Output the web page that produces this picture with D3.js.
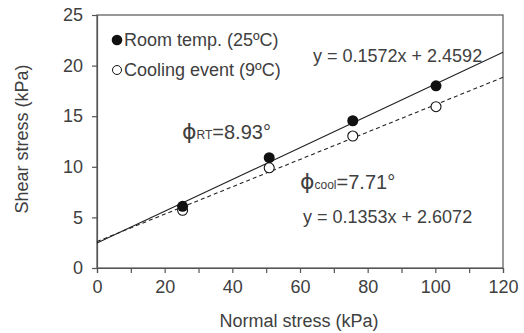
<!DOCTYPE html>
<html><head><meta charset="utf-8">
<script src="https://cdn.jsdelivr.net/npm/d3@7"></script>
<style>
body{margin:0;background:#fff;}
text{font-family:"Liberation Sans",Arial,sans-serif;fill:#404040;}
</style></head>
<body><svg id="chart" width="524" height="333"></svg>
<script>
const normalStress = [25.3, 50.9, 75.6, 100.2];
const roomTemp = [6.1, 10.9, 14.55, 18.0];
const cooling = [5.7, 9.9, 13.04, 15.94];
const fitRoom = {slope: 0.1572, intercept: 2.4592};
const fitCool = {slope: 0.1353, intercept: 2.6072};
const xTicks = [0, 20, 40, 60, 80, 100, 120];
const xMinorTicks = [0,10,20,30,40,50,60,70,80,90,100,110,120];
const yTicks = [0, 5, 10, 15, 20, 25];
const legendLabels = ["Room temp. (25ºC)", "Cooling event (9ºC)"];

const svg = d3.select("#chart");
const L = 97, T = 15, R = 503, B = 268;
const x = d3.scaleLinear().domain([0,120]).range([L,R]);
const y = d3.scaleLinear().domain([0,25]).range([B,T]);
const axisCol = "#555";

// frame
svg.append("rect").attr("x",L).attr("y",T).attr("width",R-L).attr("height",B-T)
  .attr("fill","none").attr("stroke",axisCol).attr("stroke-width",1.2);

// axes
const gx = svg.append("g").attr("transform",`translate(0,${B})`)
  .call(d3.axisBottom(x).tickValues(xMinorTicks).tickSize(5).tickPadding(7)
    .tickFormat(d => xTicks.includes(d) ? d : ""));
const gy = svg.append("g").attr("transform",`translate(${L},0)`)
  .call(d3.axisLeft(y).tickValues(yTicks).tickSize(5).tickPadding(9));
[gx,gy].forEach(g=>{
  g.select(".domain").attr("stroke",axisCol).attr("stroke-width",1.2);
  g.selectAll(".tick line").attr("stroke",axisCol).attr("stroke-width",1.2);
  g.selectAll(".tick text").attr("font-size",18).attr("fill","#404040")
   .attr("font-family","Liberation Sans, Arial, sans-serif");
});

// axis labels
svg.append("text").attr("x",299).attr("y",327).attr("text-anchor","middle")
  .attr("font-size",18).text("Normal stress (kPa)");
svg.append("text").attr("transform","translate(28,139) rotate(-90)")
  .attr("text-anchor","middle").attr("font-size",18).text("Shear stress (kPa)");

// fit lines
const xs = [0,120];
svg.append("line").attr("x1",x(xs[0])).attr("y1",y(fitRoom.intercept+fitRoom.slope*xs[0]))
  .attr("x2",x(xs[1])).attr("y2",y(fitRoom.intercept+fitRoom.slope*xs[1]))
  .attr("stroke","#222").attr("stroke-width",1.1);
svg.append("line").attr("x1",x(xs[0])).attr("y1",y(fitCool.intercept+fitCool.slope*xs[0]))
  .attr("x2",x(xs[1])).attr("y2",y(fitCool.intercept+fitCool.slope*xs[1]))
  .attr("stroke","#222").attr("stroke-width",1.1).attr("stroke-dasharray","4,3");

// points
svg.selectAll(".pc").data(normalStress).enter().append("circle")
  .attr("cx",(d)=>x(d)).attr("cy",(d,i)=>y(cooling[i])).attr("r",5)
  .attr("fill","#fff").attr("stroke","#111").attr("stroke-width",1.1);
svg.selectAll(".pr").data(normalStress).enter().append("circle")
  .attr("cx",(d)=>x(d)).attr("cy",(d,i)=>y(roomTemp[i])).attr("r",5.5)
  .attr("fill","#111");

// legend
svg.append("circle").attr("cx",117).attr("cy",40).attr("r",5.3).attr("fill","#111");
svg.append("circle").attr("cx",117).attr("cy",70).attr("r",4.5).attr("fill","#fff")
  .attr("stroke","#111").attr("stroke-width",1);
svg.append("text").attr("x",124).attr("y",46).attr("font-size",18).text(legendLabels[0]);
svg.append("text").attr("x",124).attr("y",76).attr("font-size",18).text(legendLabels[1]);

// equations
svg.append("text").attr("x",313).attr("y",62).attr("font-size",18)
  .text(`y = ${fitRoom.slope}x + ${fitRoom.intercept}`);
svg.append("text").attr("x",303).attr("y",223).attr("font-size",18)
  .text(`y = ${fitCool.slope}x + ${fitCool.intercept}`);

// phi labels
const phiRT = svg.append("text").attr("x",182).attr("y",139);
phiRT.append("tspan").attr("font-size",22).attr("font-family","DejaVu Sans").text("ϕ");
phiRT.append("tspan").attr("font-size",12).text("RT");
phiRT.append("tspan").attr("font-size",20).text("=8.93°");
const phiC = svg.append("text").attr("x",300).attr("y",189);
phiC.append("tspan").attr("font-size",22).attr("font-family","DejaVu Sans").text("ϕ");
phiC.append("tspan").attr("font-size",12).text("cool");
phiC.append("tspan").attr("font-size",20).text("=7.71°");
</script></body></html>
